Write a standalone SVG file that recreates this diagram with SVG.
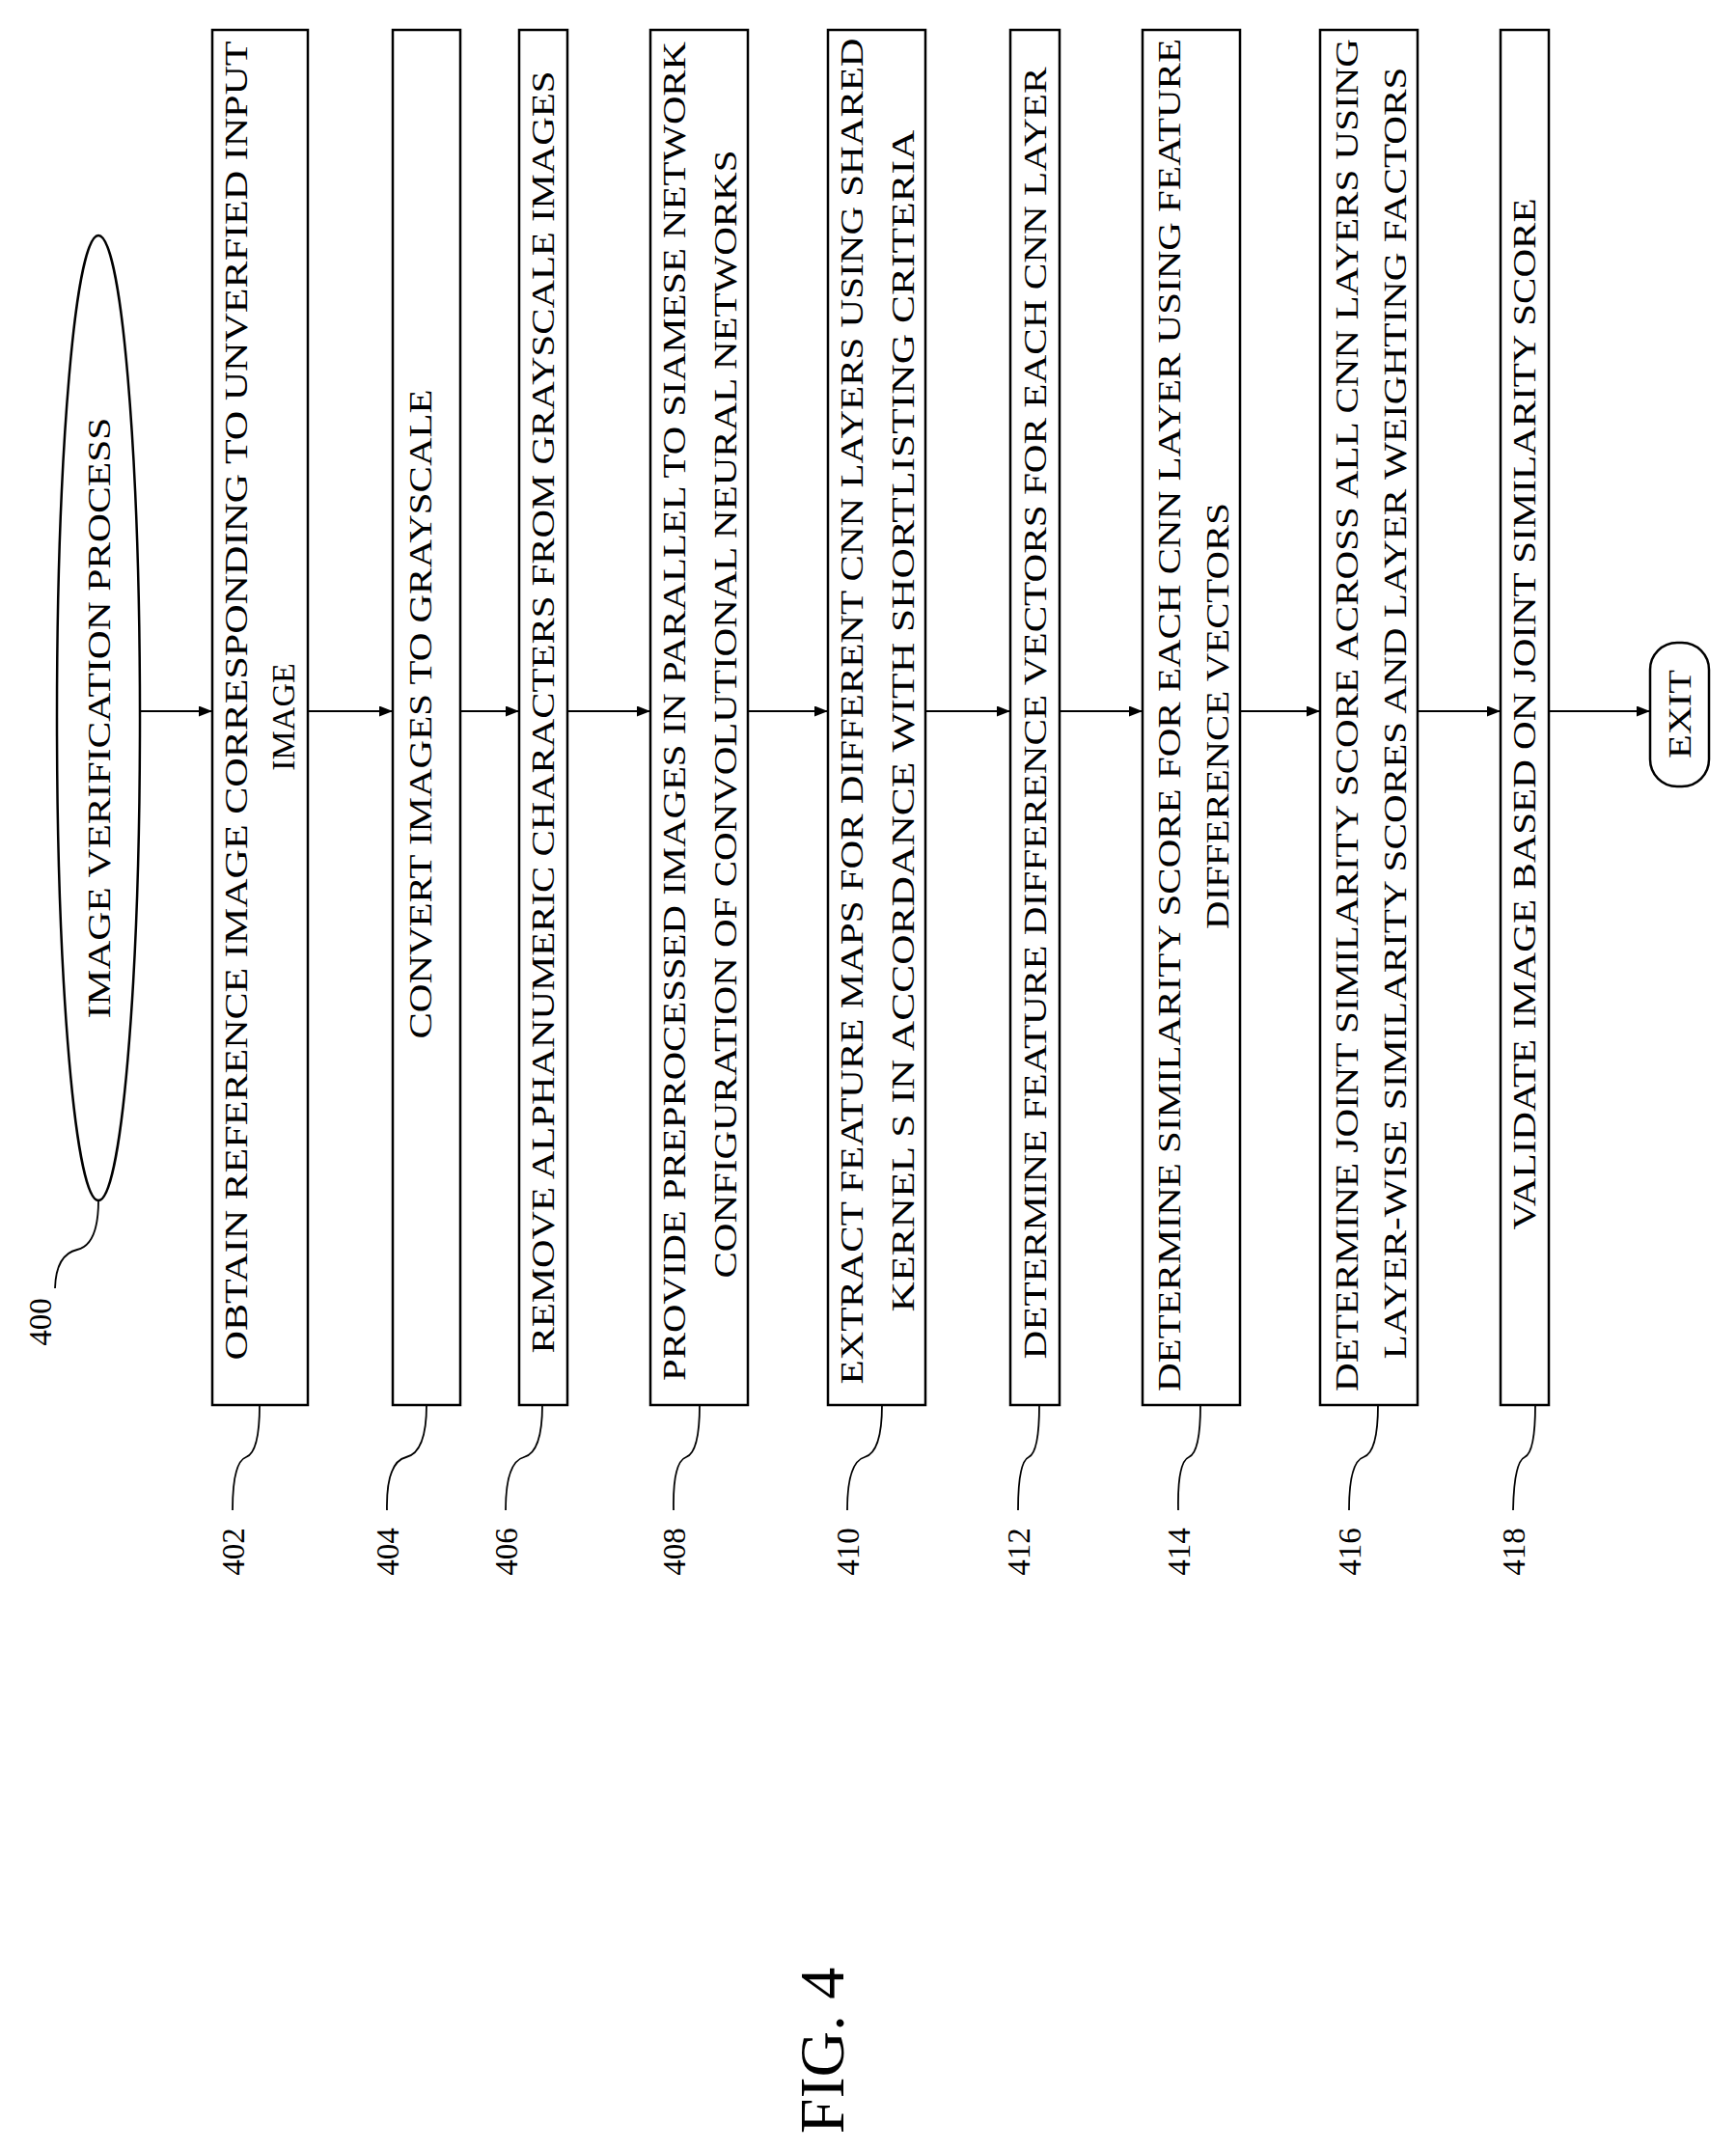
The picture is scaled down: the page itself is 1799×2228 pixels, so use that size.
<svg xmlns="http://www.w3.org/2000/svg" width="1799" height="2228" viewBox="0 0 1799 2228">
<style>
.b{fill:#fff;stroke:#000;stroke-width:2.5}
.t{font-family:"Liberation Serif",serif;font-size:34px;fill:#000;text-anchor:middle}
.n{font-family:"Liberation Serif",serif;font-size:33px;fill:#000;text-anchor:middle}
.c{fill:none;stroke:#000;stroke-width:2}
.l{fill:none;stroke:#000;stroke-width:1.8}
</style>
<defs><marker id="a" markerWidth="14" markerHeight="11" refX="14" refY="5.5" orient="auto" markerUnits="userSpaceOnUse"><path d="M0,0 L14,5.5 L0,11 Z" fill="#000"/></marker></defs>
<rect width="1799" height="2228" fill="#fff"/>
<g id="start"><ellipse class="b" cx="102" cy="744" rx="43" ry="500"/><text class="t" transform="translate(114,744) rotate(-90)" textLength="623" lengthAdjust="spacingAndGlyphs">IMAGE VERIFICATION PROCESS</text></g>
<g id="n402"><rect class="b" x="220" y="31" width="99" height="1425"/><text class="t" transform="translate(256,726) rotate(-90)" textLength="1367" lengthAdjust="spacingAndGlyphs">OBTAIN REFERENCE IMAGE CORRESPONDING TO UNVERFIED INPUT</text><text class="t" transform="translate(305,743) rotate(-90)" font-size="36">IMAGE</text></g>
<g id="n404"><rect class="b" x="407" y="31" width="70" height="1425"/><text class="t" transform="translate(447,740) rotate(-90)" textLength="673" lengthAdjust="spacingAndGlyphs">CONVERT IMAGES TO GRAYSCALE</text></g>
<g id="n406"><rect class="b" x="538" y="31" width="50" height="1425"/><text class="t" transform="translate(574,738) rotate(-90)" textLength="1329" lengthAdjust="spacingAndGlyphs">REMOVE ALPHANUMERIC CHARACTERS FROM GRAYSCALE IMAGES</text></g>
<g id="n408"><rect class="b" x="674" y="31" width="101" height="1425"/><text class="t" transform="translate(710,737) rotate(-90)" textLength="1388" lengthAdjust="spacingAndGlyphs">PROVIDE PREPROCESSED IMAGES IN PARALLEL TO SIAMESE NETWORK</text><text class="t" transform="translate(763,740) rotate(-90)" textLength="1169" lengthAdjust="spacingAndGlyphs">CONFIGURATION OF CONVOLUTIONAL NEURAL NETWORKS</text></g>
<g id="n410"><rect class="b" x="858" y="31" width="101" height="1425"/><text class="t" transform="translate(894,737) rotate(-90)" textLength="1395" lengthAdjust="spacingAndGlyphs">EXTRACT FEATURE MAPS FOR DIFFERENT CNN LAYERS USING SHARED</text><text class="t" transform="translate(947,747) rotate(-90)" textLength="1225" lengthAdjust="spacingAndGlyphs">KERNEL S IN ACCORDANCE WITH SHORTLISTING CRITERIA</text></g>
<g id="n412"><rect class="b" x="1047" y="31" width="51" height="1425"/><text class="t" transform="translate(1084,739) rotate(-90)" textLength="1339" lengthAdjust="spacingAndGlyphs">DETERMINE FEATURE DIFFERENCE VECTORS FOR EACH CNN LAYER</text></g>
<g id="n414"><rect class="b" x="1184" y="31" width="101" height="1425"/><text class="t" transform="translate(1223,741) rotate(-90)" textLength="1402" lengthAdjust="spacingAndGlyphs">DETERMINE SIMILARITY SCORE FOR EACH CNN LAYER USING FEATURE</text><text class="t" transform="translate(1273,742) rotate(-90)" textLength="442" lengthAdjust="spacingAndGlyphs">DIFFERENCE VECTORS</text></g>
<g id="n416"><rect class="b" x="1368" y="31" width="101" height="1425"/><text class="t" transform="translate(1407,741) rotate(-90)" textLength="1402" lengthAdjust="spacingAndGlyphs">DETERMINE JOINT SIMILARITY SCORE ACROSS ALL CNN LAYERS USING</text><text class="t" transform="translate(1457,739) rotate(-90)" textLength="1339" lengthAdjust="spacingAndGlyphs">LAYER-WISE SIMILARITY SCORES AND LAYER WEIGHTING FACTORS</text></g>
<g id="n418"><rect class="b" x="1555" y="31" width="50" height="1425"/><text class="t" transform="translate(1591,740) rotate(-90)" textLength="1069" lengthAdjust="spacingAndGlyphs">VALIDATE IMAGE BASED ON JOINT SIMILARITY SCORE</text></g>
<g id="exit"><rect class="b" x="1710" y="666" width="61" height="149" rx="28"/><text class="t" transform="translate(1752,740) rotate(-90)" textLength="92" lengthAdjust="spacingAndGlyphs">EXIT</text></g>
<g id="connectors">
<line class="c" x1="145" y1="737" x2="220" y2="737" marker-end="url(#a)"/>
<line class="c" x1="319" y1="737" x2="407" y2="737" marker-end="url(#a)"/>
<line class="c" x1="477" y1="737" x2="538" y2="737" marker-end="url(#a)"/>
<line class="c" x1="588" y1="737" x2="674" y2="737" marker-end="url(#a)"/>
<line class="c" x1="775" y1="737" x2="858" y2="737" marker-end="url(#a)"/>
<line class="c" x1="959" y1="737" x2="1047" y2="737" marker-end="url(#a)"/>
<line class="c" x1="1098" y1="737" x2="1184" y2="737" marker-end="url(#a)"/>
<line class="c" x1="1285" y1="737" x2="1368" y2="737" marker-end="url(#a)"/>
<line class="c" x1="1469" y1="737" x2="1555" y2="737" marker-end="url(#a)"/>
<line class="c" x1="1605" y1="737" x2="1710" y2="737" marker-end="url(#a)"/>
</g>
<g id="leaders">
<path class="l" d="M102,1244 Q102,1290 80,1295 T57,1335"/>
<path class="l" d="M269,1456 Q269,1505 255,1510 T241,1565"/>
<path class="l" d="M442,1456 Q442,1505 421,1510 T401,1565"/>
<path class="l" d="M562,1456 Q562,1505 543,1510 T524,1565"/>
<path class="l" d="M725,1456 Q725,1505 711,1510 T698,1565"/>
<path class="l" d="M914,1456 Q914,1505 896,1510 T878,1565"/>
<path class="l" d="M1077,1456 Q1077,1505 1066,1510 T1055,1565"/>
<path class="l" d="M1244,1456 Q1244,1505 1232,1510 T1221,1565"/>
<path class="l" d="M1428,1456 Q1428,1505 1413,1510 T1398,1565"/>
<path class="l" d="M1591,1456 Q1591,1505 1580,1510 T1568,1565"/>
</g>
<g id="labels">
<text class="n" transform="translate(53,1370) rotate(-90)">400</text>
<text class="n" transform="translate(253,1608) rotate(-90)">402</text>
<text class="n" transform="translate(413,1608) rotate(-90)">404</text>
<text class="n" transform="translate(536,1608) rotate(-90)">406</text>
<text class="n" transform="translate(710,1608) rotate(-90)">408</text>
<text class="n" transform="translate(890,1608) rotate(-90)">410</text>
<text class="n" transform="translate(1067,1608) rotate(-90)">412</text>
<text class="n" transform="translate(1233,1608) rotate(-90)">414</text>
<text class="n" transform="translate(1410,1608) rotate(-90)">416</text>
<text class="n" transform="translate(1580,1608) rotate(-90)">418</text>
<text font-family="Liberation Serif,serif" font-size="66" text-anchor="middle" transform="translate(874,2125) rotate(-90)">FIG. 4</text>
</g>
</svg>
